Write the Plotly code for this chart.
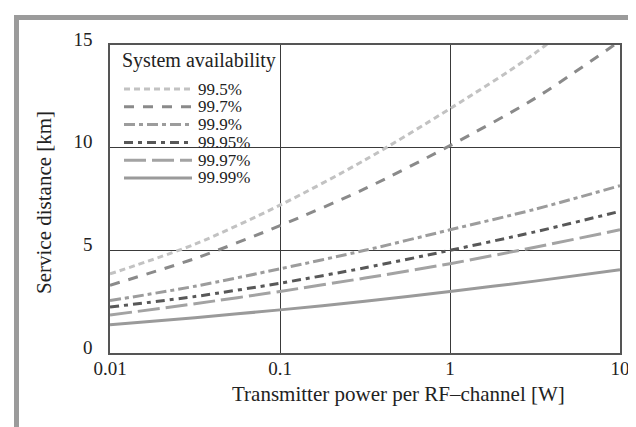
import plotly.graph_objects as go

# transmitter power [W], half-decade sampling
power = [0.01, 0.0316, 0.1, 0.316, 1, 3.16, 10]

# service distance [km] per system availability
d_995 = [3.85, 5.3, 7.2, 9.4, 11.9, 14.6, 18.0]
d_997 = [3.3, 4.6, 6.2, 8.0, 10.1, 12.4, 15.2]
d_999 = [2.55, 3.25, 4.1, 5.0, 6.0, 7.0, 8.15]
d_9995 = [2.24, 2.75, 3.4, 4.15, 5.0, 5.9, 6.9]
d_9997 = [1.85, 2.4, 3.0, 3.65, 4.35, 5.15, 6.0]
d_9999 = [1.38, 1.72, 2.1, 2.52, 3.0, 3.5, 4.05]

labels = ["99.5%", "99.7%", "99.9%", "99.95%", "99.97%", "99.99%"]
series = [d_995, d_997, d_999, d_9995, d_9997, d_9999]

x_ticks = [0.01, 0.1, 1, 10]
x_ticktext = ["0.01", "0.1", "1", "10"]
y_ticks = [0, 5, 10, 15]

styles = [
    dict(color="#c2c2c2", dash="6px,4px", width=3),
    dict(color="#8a8a8a", dash="10px,9px", width=3),
    dict(color="#9c9c9c", dash="11px,4px,4px,4px", width=3),
    dict(color="#585858", dash="9px,5px,4px,5px", width=3),
    dict(color="#a3a3a3", dash="22px,6px", width=3),
    dict(color="#9a9a9a", dash="solid", width=3),
]

FONT = "Liberation Serif, Times New Roman, serif"
W, H = 636, 427
L, R, T, B = 102, 612, 37, 345  # plot area in pixels


def px_x(p):
    return (p - L) / (R - L)


def px_y(p):
    return (B - p) / (B - T)


fig = go.Figure()
for name, ys, st in zip(labels, series, styles):
    fig.add_trace(go.Scatter(
        x=power, y=ys, name=name, mode="lines",
        line=dict(color=st["color"], dash=st["dash"], width=st["width"],
                  shape="spline", smoothing=0.8),
        showlegend=False,
    ))

shapes = []
annotations = []

# outer grey frame (open on the right)
shapes.append(dict(type="rect", xref="paper", yref="paper",
                   x0=px_x(8.5), x1=px_x(660), y0=px_y(424), y1=px_y(9.5),
                   line=dict(color="#9b9b9b", width=5), layer="below"))

# legend drawn by hand so the line samples get their long length
annotations.append(dict(text="System availability", xref="paper", yref="paper",
                        x=px_x(112), y=px_y(52), xanchor="left", yanchor="middle",
                        showarrow=False, font=dict(size=20, color="#222")))
for i, (name, st) in enumerate(zip(labels, styles)):
    yy = 81 + i * 17.8
    shapes.append(dict(type="line", xref="paper", yref="paper",
                       x0=px_x(116), x1=px_x(184), y0=px_y(yy), y1=px_y(yy),
                       line=dict(color=st["color"], dash=st["dash"], width=st["width"])))
    annotations.append(dict(text=name, xref="paper", yref="paper",
                            x=px_x(188), y=px_y(yy), xanchor="left", yanchor="middle",
                            showarrow=False, font=dict(size=17, color="#222")))

# axis titles
annotations.append(dict(text="Transmitter power per RF\u2013channel [W]", xref="paper", yref="paper",
                        x=px_x(390), y=px_y(386), xanchor="center", yanchor="middle",
                        showarrow=False, font=dict(size=21, color="#222")))
annotations.append(dict(text="Service distance [km]", xref="paper", yref="paper",
                        x=px_x(36), y=px_y(195), xanchor="center", yanchor="middle",
                        textangle=-90, showarrow=False, font=dict(size=21, color="#222")))

fig.update_layout(
    width=W, height=H,
    margin=dict(l=L, r=W - R, t=T, b=H - B),
    paper_bgcolor="white", plot_bgcolor="white",
    font=dict(family=FONT, size=19, color="#222"),
    shapes=shapes, annotations=annotations,
    showlegend=False,
)
fig.update_xaxes(
    type="log", range=[-2, 1],
    tickvals=x_ticks, ticktext=x_ticktext,
    showgrid=True, gridcolor="#3a3a3a", gridwidth=1.2,
    showline=True, mirror=True, linecolor="#555", linewidth=1.5,
    ticks="", ticklabelstandoff=-3, zeroline=False,
)
fig.update_yaxes(
    range=[0, 15], tickvals=y_ticks,
    showgrid=True, gridcolor="#3a3a3a", gridwidth=1.2,
    showline=True, mirror=True, linecolor="#555", linewidth=1.5,
    ticks="", ticklabelstandoff=12, ticklabelshift=-6, zeroline=False,
)

fig.write_html("out.html")
